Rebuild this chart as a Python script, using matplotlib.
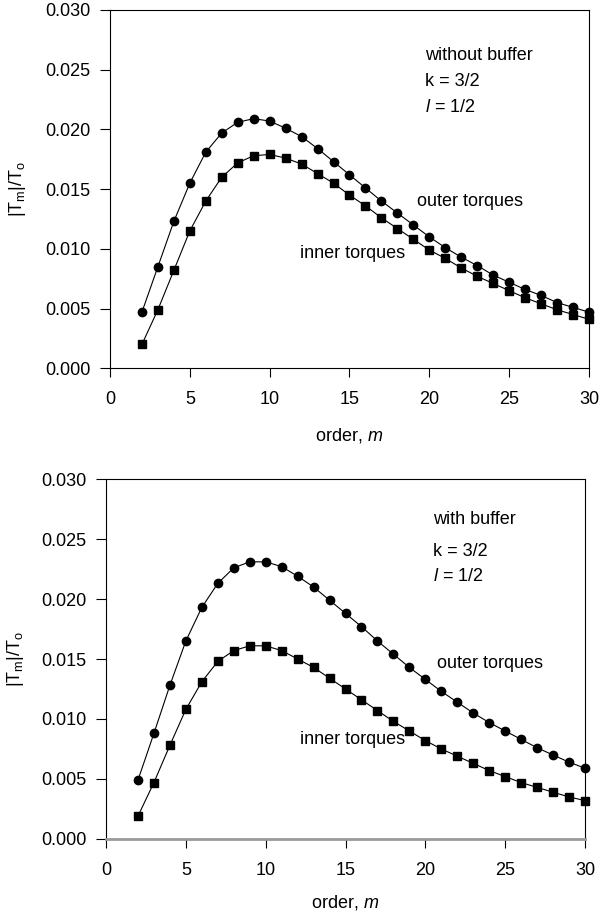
import matplotlib
matplotlib.use("Agg")
import matplotlib.pyplot as plt

plt.rcParams['font.family'] = ['Liberation Sans', 'DejaVu Sans']
plt.rcParams['mathtext.fontset'] = 'custom'
plt.rcParams['mathtext.rm'] = 'Liberation Sans'
plt.rcParams['mathtext.it'] = 'Liberation Sans:italic'

order_m = list(range(2, 31))

# torque amplitudes |T_m|/T_o, without buffer
outer_no_buffer = [0.0047, 0.0085, 0.0123, 0.0155, 0.0181, 0.0197, 0.0206, 0.0209, 0.0207,
                   0.0201, 0.0194, 0.0184, 0.0173, 0.0162, 0.0151, 0.0140, 0.0130, 0.0120,
                   0.0110, 0.0101, 0.0093, 0.0086, 0.0078, 0.0072, 0.0066, 0.0061, 0.0055,
                   0.0051, 0.0047]
inner_no_buffer = [0.0020, 0.0049, 0.0082, 0.0115, 0.0140, 0.0160, 0.0172, 0.0178, 0.0179,
                   0.0176, 0.0171, 0.0163, 0.0155, 0.0145, 0.0136, 0.0126, 0.0117, 0.0108,
                   0.0099, 0.0092, 0.0084, 0.0077, 0.0071, 0.0065, 0.0059, 0.0054, 0.0049,
                   0.0045, 0.0041]

# torque amplitudes |T_m|/T_o, with buffer
outer_buffer = [0.0049, 0.0088, 0.0128, 0.0165, 0.0193, 0.0213, 0.0226, 0.0231, 0.0231,
                0.0227, 0.0219, 0.0210, 0.0199, 0.0188, 0.0177, 0.0165, 0.0154, 0.0143,
                0.0133, 0.0123, 0.0114, 0.0105, 0.0097, 0.0090, 0.0083, 0.0076, 0.0070,
                0.0064, 0.0059]
inner_buffer = [0.0019, 0.0047, 0.0078, 0.0108, 0.0131, 0.0148, 0.0157, 0.0161, 0.0161,
                0.0157, 0.0150, 0.0143, 0.0134, 0.0125, 0.0116, 0.0107, 0.0098, 0.0090,
                0.0082, 0.0075, 0.0069, 0.0063, 0.0057, 0.0052, 0.0047, 0.0043, 0.0039,
                0.0035, 0.0032]

x_ticks = [0, 5, 10, 15, 20, 25, 30]
y_ticks = [0.000, 0.005, 0.010, 0.015, 0.020, 0.025, 0.030]

FS = 13

fig = plt.figure(figsize=(6.02, 9.17), dpi=100)
ax1 = fig.add_axes([0.1827, 0.5984, 0.7957, 0.3907])
ax2 = fig.add_axes([0.1761, 0.0851, 0.7957, 0.3925])


def style(ax, xlabelpad, ylabelpad):
    ax.set_xlim(0, 30)
    ax.set_ylim(0, 0.030)
    ax.set_xticks(x_ticks)
    ax.set_yticks(y_ticks)
    ax.set_yticklabels([f"{v:.3f}" for v in y_ticks])
    ax.tick_params(axis='x', direction='out', length=6.5, width=0.8, pad=10,
                   labelsize=FS, top=False)
    ax.tick_params(axis='y', direction='out', length=7, width=0.8, pad=7,
                   labelsize=FS, right=False)
    for s in ax.spines.values():
        s.set_linewidth(0.8)
    ax.set_ylabel(r'$\mathregular{|T_m|/T_o}$', fontsize=FS, labelpad=ylabelpad)
    ax.set_xlabel(r'order, $\mathit{m}$', fontsize=FS, labelpad=xlabelpad)


def draw(ax, outer, inner):
    ax.plot(order_m, outer, '-', color='black', lw=0.8, marker='o', ms=6,
            mfc='black', mec='black', clip_on=False)
    ax.plot(order_m, inner, '-', color='black', lw=0.8, marker='s', ms=5.2,
            mfc='black', mec='black', clip_on=False)


# upper panel: without buffer
draw(ax1, outer_no_buffer, inner_no_buffer)
style(ax1, xlabelpad=13, ylabelpad=12)
ax1.text(19.7, 0.0262, 'without buffer', fontsize=FS, va='center')
ax1.text(19.75, 0.0240, 'k = 3/2', fontsize=FS, va='center')
ax1.text(19.75, 0.0218, r'$\mathit{l}$ = 1/2', fontsize=FS, va='center')
ax1.text(19.2, 0.0140, 'outer torques', fontsize=FS, va='center')
ax1.text(11.9, 0.0096, 'inner torques', fontsize=FS, va='center')

# lower panel: with buffer
draw(ax2, outer_buffer, inner_buffer)
style(ax2, xlabelpad=10, ylabelpad=11)
ax2.spines['bottom'].set_color('#9a9a9a')
ax2.spines['bottom'].set_linewidth(2.0)
ax2.text(20.45, 0.0266, 'with buffer', fontsize=FS, va='center')
ax2.text(20.5, 0.0240, 'k = 3/2', fontsize=FS, va='center')
ax2.text(20.5, 0.0219, r'$\mathit{l}$ = 1/2', fontsize=FS, va='center')
ax2.text(20.7, 0.0146, 'outer torques', fontsize=FS, va='center')
ax2.text(12.15, 0.0083, 'inner torques', fontsize=FS, va='center')

fig.savefig('out.png', dpi=100)
